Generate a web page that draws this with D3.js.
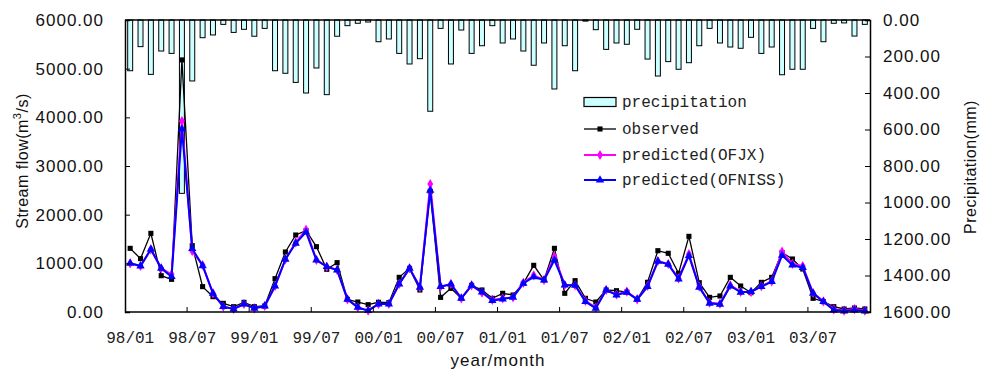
<!DOCTYPE html>
<html lang="en">
<head>
<meta charset="utf-8">
<title>Stream flow</title>
<script src="https://d3js.org/d3.v7.min.js"></script>
<style>
    body { margin: 0; background: #fff; }
    .mono { font-family: "Liberation Mono", monospace; font-size: 16px; fill: #222; }
    .sans { font-family: "Liberation Sans", Arial, sans-serif; font-size: 17px; fill: #111; letter-spacing: 1px; }
</style>
</head>
<body>
<script>
    // months 98/01 .. 03/12
    var months = [
        "98/01","98/02","98/03","98/04","98/05","98/06","98/07","98/08","98/09","98/10","98/11","98/12",
        "99/01","99/02","99/03","99/04","99/05","99/06","99/07","99/08","99/09","99/10","99/11","99/12",
        "00/01","00/02","00/03","00/04","00/05","00/06","00/07","00/08","00/09","00/10","00/11","00/12",
        "01/01","01/02","01/03","01/04","01/05","01/06","01/07","01/08","01/09","01/10","01/11","01/12",
        "02/01","02/02","02/03","02/04","02/05","02/06","02/07","02/08","02/09","02/10","02/11","02/12",
        "03/01","03/02","03/03","03/04","03/05","03/06","03/07","03/08","03/09","03/10","03/11","03/12"
    ];
    var monthLabels = ["98/01","98/07","99/01","99/07","00/01","00/07","01/01","01/07","02/01","02/07","03/01","03/07"];

    var precipitation = [
        278,146,298,170,183,950,334,97,82,24,68,51,
        89,46,278,292,342,400,263,409,89,31,18,11,
        119,104,183,241,212,500,46,241,55,183,141,31,
        126,104,170,248,126,378,141,278,6,53,161,126,
        133,51,214,307,228,270,234,141,46,126,148,155,
        95,183,148,300,270,270,46,119,18,16,88,24
    ];
    var observed = [
        1308,1096,1616,746,671,5180,1363,521,315,178,110,198,
        110,123,685,1233,1582,1671,1343,877,1014,260,205,151,
        200,192,712,897,452,2480,301,486,281,548,452,281,
        384,349,589,959,657,1308,384,644,281,205,452,438,
        410,260,610,1260,1206,795,1555,602,301,329,712,534,
        397,609,712,1222,1089,883,281,212,110,62,82,62
    ];
    var predOFJX = [
        1000,945,1288,897,774,3924,1253,966,384,110,62,164,
        76,123,534,1082,1430,1690,1068,931,863,260,96,27,
        164,164,575,897,507,2630,521,575,281,548,397,250,
        280,301,600,753,657,1137,555,548,230,90,452,360,
        420,260,534,1048,986,690,1190,520,190,170,550,415,
        410,530,630,1240,990,945,390,220,55,30,60,30
    ];
    var predOFNISS = [
        1000,945,1288,897,726,3760,1301,950,384,110,62,164,
        76,123,534,1082,1411,1640,1068,931,863,260,96,27,
        164,164,575,897,507,2500,521,575,281,548,410,233,
        267,301,589,720,657,1068,555,548,212,76,452,349,
        404,260,520,1040,980,678,1157,507,178,157,534,404,
        418,521,623,1164,966,911,384,212,41,21,41,21
    ];
    var flowTicks = [0,1000,2000,3000,4000,5000,6000];
    var precipTicks = [0,200,400,600,800,1000,1200,1400,1600];

    var w = 981, h = 374;
    var padL = 125, padR = 870, padT = 20, padB = 312;

    var svg = d3.select("body").append("svg").attr("width", w).attr("height", h);

    var x = d3.scaleBand().domain(months).range([padL, padR]).padding(0);
    var bw = x.bandwidth();
    var yFlow = d3.scaleLinear().domain([0, 6000]).range([padB, padT]);
    var yPrec = d3.scaleLinear().domain([0, 1600]).range([padT, padB]);

    // precipitation bars hanging from the top
    svg.append("g").selectAll("rect")
        .data(precipitation)
        .enter()
        .append("rect")
        .attr("x", function(d, i) { return x(months[i]) + bw * 0.26; })
        .attr("y", yPrec(0))
        .attr("width", bw * 0.48)
        .attr("height", function(d) { return yPrec(d) - yPrec(0); })
        .attr("fill", "#ccffff")
        .attr("stroke", "#000")
        .attr("stroke-width", 1);

    function cx(i) { return x(months[i]) + bw / 2; }

    var series = [
        { name: "observed", values: observed, color: "#000", width: 1.3, marker: d3.symbolSquare, size: 26 },
        { name: "predicted(OFJX)", values: predOFJX, color: "#ff00ff", width: 2, marker: d3.symbolDiamond, size: 30 },
        { name: "predicted(OFNISS)", values: predOFNISS, color: "#0000ff", width: 2, marker: d3.symbolTriangle, size: 30 }
    ];

    var line = d3.line()
        .x(function(d, i) { return cx(i); })
        .y(function(d) { return yFlow(d); });

    series.forEach(function(s) {
        var g = svg.append("g");
        g.append("path")
            .datum(s.values)
            .attr("d", line)
            .attr("fill", "none")
            .attr("stroke", s.color)
            .attr("stroke-width", s.width);
        g.selectAll("path.m")
            .data(s.values)
            .enter()
            .append("path")
            .attr("class", "m")
            .attr("d", d3.symbol().type(s.marker).size(s.size))
            .attr("transform", function(d, i) { return "translate(" + cx(i) + "," + yFlow(d) + ")"; })
            .attr("fill", s.color);
    });

    // frame
    svg.append("line").attr("x1", padL).attr("x2", padR).attr("y1", padT).attr("y2", padT)
        .attr("stroke", "#000").attr("stroke-width", 1.5);

    // left axis
    var axL = svg.append("g").attr("transform", "translate(" + padL + ",0)")
        .call(d3.axisLeft(yFlow).tickValues(flowTicks).tickFormat(d3.format(".2f")).tickSize(-5).tickPadding(21));
    axL.selectAll("text").attr("class", "sans").attr("fill", null);

    // right axis
    var axR = svg.append("g").attr("transform", "translate(" + padR + ",0)")
        .call(d3.axisRight(yPrec).tickValues(precipTicks).tickFormat(d3.format(".2f")).tickSize(-5).tickPadding(13));
    axR.selectAll("text").attr("class", "sans").attr("fill", null);

    // bottom axis: labels at band centres, ticks at 6-month boundaries
    var axB = svg.append("g").attr("transform", "translate(0," + padB + ")")
        .call(d3.axisBottom(x).tickValues(monthLabels).tickSize(0).tickPadding(20));
    axB.selectAll("text").attr("class", "mono").attr("fill", null);
    axB.select(".domain").attr("d", "M" + padL + ",0H" + padR);
    axB.selectAll("line.b")
        .data(months.filter(function(m, i) { return i > 0 && i % 6 === 0; }))
        .enter()
        .append("line")
        .attr("class", "b")
        .attr("x1", function(m) { return x(m); })
        .attr("x2", function(m) { return x(m); })
        .attr("y1", 0)
        .attr("y2", -5)
        .attr("stroke", "#000");

    svg.selectAll(".domain").attr("stroke-width", 1.5);

    // axis titles
    var tl = svg.append("text").attr("class", "sans")
        .attr("transform", "translate(28,161) rotate(-90)")
        .attr("text-anchor", "middle")
        .style("font-size", "16px").style("letter-spacing", "0.5px");
    tl.append("tspan").text("Stream flow(m");
    tl.append("tspan").text("3").attr("dy", -7).style("font-size", "11px");
    tl.append("tspan").text("/s)").attr("dy", 7);

    svg.append("text").attr("class", "sans")
        .attr("transform", "translate(976,167) rotate(-90)")
        .attr("text-anchor", "middle")
        .style("font-size", "16px").style("letter-spacing", "0.5px")
        .text("Precipitation(mm)");

    svg.append("text").attr("class", "sans")
        .attr("x", 498).attr("y", 366)
        .attr("text-anchor", "middle")
        .style("font-size", "17px")
        .text("year/month");

    // legend
    var lg = svg.append("g");
    lg.append("rect").attr("x", 584).attr("y", 97.5).attr("width", 32).attr("height", 9)
        .attr("fill", "#ccffff").attr("stroke", "#000").attr("stroke-width", 1.2);
    lg.append("text").attr("class", "mono").attr("x", 622).attr("y", 107).text("precipitation");
    var rows = [129, 155, 180];
    series.forEach(function(s, k) {
        var yy = rows[k];
        lg.append("line").attr("x1", 584).attr("x2", 616).attr("y1", yy).attr("y2", yy)
            .attr("stroke", s.color).attr("stroke-width", s.width);
        lg.append("path").attr("d", d3.symbol().type(s.marker).size(s.size))
            .attr("transform", "translate(600," + yy + ")").attr("fill", s.color);
        lg.append("text").attr("class", "mono").attr("x", 622).attr("y", yy + 5).text(s.name);
    });
</script>
</body>
</html>
